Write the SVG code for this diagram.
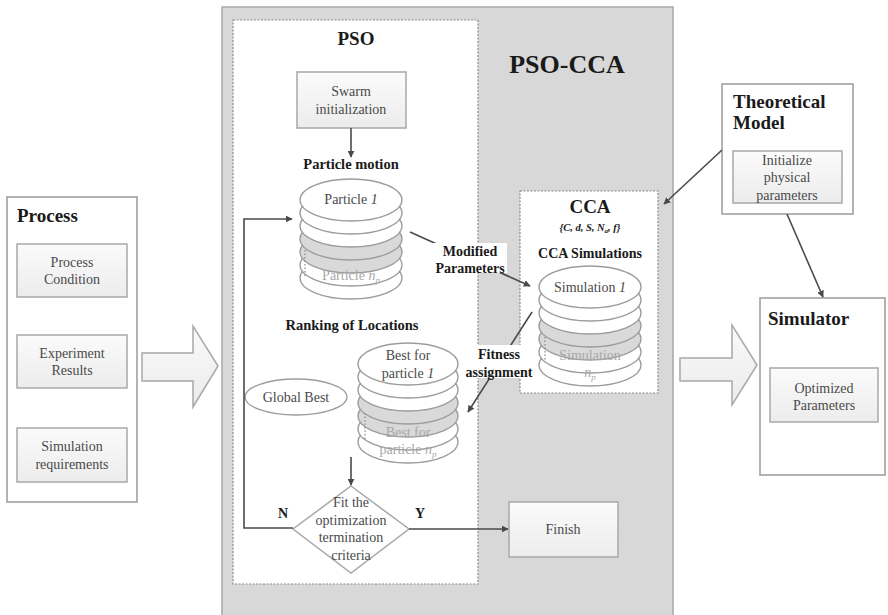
<svg xmlns="http://www.w3.org/2000/svg" width="888" height="615" viewBox="0 0 888 615">
<style>
text{font-family:"Liberation Serif","Times New Roman",serif;}
.bt{font-weight:bold;fill:#1a1a1a;}
.nt{fill:#4a4a4a;font-size:14px;text-anchor:middle;}
.gt{fill:#a8a8a8;font-size:14px;text-anchor:middle;}
.box{fill:#fff;stroke:#9a9a9a;stroke-width:1.5;}
.sbox{fill:url(#g1);stroke:#a8a8a8;stroke-width:1.5;}
.dot{fill:#fff;stroke:#8a8a8a;stroke-width:1.2;stroke-dasharray:2 1.5;}
.el{fill:#fff;stroke:#9c9c9c;stroke-width:1.3;}
.elg{fill:#d9d9d9;stroke:#9c9c9c;stroke-width:1.3;}
.vd{stroke:#888;stroke-width:1.2;stroke-dasharray:1.5 2;}
.ln{fill:none;stroke:#4a4a4a;stroke-width:1.6;}
.big{fill:url(#g2);stroke:#a8a8a8;stroke-width:1.5;}
</style>
<defs>
<linearGradient id="g1" x1="0" y1="0" x2="0" y2="1"><stop offset="0" stop-color="#fbfbfb"/><stop offset="1" stop-color="#ececec"/></linearGradient>
<linearGradient id="g2" x1="0" y1="0" x2="0" y2="1"><stop offset="0" stop-color="#fafafa"/><stop offset="1" stop-color="#ebebeb"/></linearGradient>
<marker id="ah" viewBox="0 0 10 10" refX="9" refY="5" markerWidth="7" markerHeight="7" markerUnits="userSpaceOnUse" orient="auto"><path d="M0,0 L10,5 L0,10 z" fill="#4a4a4a"/></marker>
</defs>
<rect width="888" height="615" fill="#fff"/>

<g id="pso-cca">
<rect x="222" y="7" width="451" height="620" fill="#d8d8d8" stroke="#a8a8a8" stroke-width="1.5"/>
<text class="bt" x="567" y="73" font-size="26" text-anchor="middle">PSO-CCA</text>
</g>

<g id="pso">
<rect class="dot" x="233" y="20" width="245" height="564"/>
<text class="bt" x="356" y="45" font-size="19" text-anchor="middle">PSO</text>
</g>

<g id="process">
<rect class="box" x="7" y="197" width="130" height="305"/>
<text class="bt" x="17" y="222" font-size="19">Process</text>
<rect class="sbox" x="17" y="244" width="110" height="53"/>
<text class="nt" x="72" y="267">Process</text>
<text class="nt" x="72" y="284">Condition</text>
<rect class="sbox" x="17" y="335" width="110" height="53"/>
<text class="nt" x="72" y="358">Experiment</text>
<text class="nt" x="72" y="375">Results</text>
<rect class="sbox" x="17" y="428" width="110" height="54"/>
<text class="nt" x="72" y="451">Simulation</text>
<text class="nt" x="72" y="469">requirements</text>
</g>

<g id="arrow-left">
<path class="big" d="M142,353 L193,353 L193,326 L218,366 L193,407 L193,381 L142,381 z"/>
</g>
<g id="arrow-right">
<path class="big" d="M680,358 L732,358 L732,325 L757,365 L732,405 L732,381 L680,381 z"/>
</g>

<g id="swarm">
<rect class="sbox" x="297" y="72" width="109" height="56"/>
<text class="nt" x="351" y="96">Swarm</text>
<text class="nt" x="351" y="114">initialization</text>
</g>

<g id="particle-motion">
<text class="bt" x="351" y="169" font-size="14.5" text-anchor="middle">Particle motion</text>
<ellipse class="el" cx="351" cy="278" rx="51" ry="21"/>
<ellipse class="el" cx="351" cy="265" rx="51" ry="21"/>
<ellipse class="elg" cx="351" cy="252" rx="51" ry="21"/>
<ellipse class="elg" cx="351" cy="239" rx="51" ry="21"/>
<ellipse class="el" cx="351" cy="226" rx="51" ry="21"/>
<ellipse class="el" cx="351" cy="213" rx="51" ry="21"/>
<ellipse class="el" cx="351" cy="200" rx="51" ry="21"/>
<line class="vd" x1="305" y1="250" x2="305" y2="276"/>
<text class="nt" x="351" y="204">Particle <tspan font-style="italic">1</tspan></text>
<text class="gt" x="351" y="280">Particle <tspan font-style="italic">n</tspan><tspan font-style="italic" font-size="9" dy="3">p</tspan></text>
</g>

<g id="ranking">
<text class="bt" x="352" y="330" font-size="14.5" text-anchor="middle">Ranking of Locations</text>
</g>

<g id="global-best">
<ellipse class="el" cx="296" cy="397" rx="51" ry="18"/>
<text class="nt" x="296" y="402">Global Best</text>
</g>

<g id="best-stack">
<ellipse class="el" cx="408" cy="442" rx="50" ry="21"/>
<ellipse class="el" cx="408" cy="429" rx="50" ry="21"/>
<ellipse class="elg" cx="408" cy="416" rx="50" ry="21"/>
<ellipse class="elg" cx="408" cy="403" rx="50" ry="21"/>
<ellipse class="el" cx="408" cy="390" rx="50" ry="21"/>
<ellipse class="el" cx="408" cy="377" rx="50" ry="21"/>
<ellipse class="el" cx="408" cy="364" rx="50" ry="21"/>
<line class="vd" x1="365" y1="413" x2="365" y2="440"/>
<text class="nt" x="408" y="360">Best for</text>
<text class="nt" x="408" y="378">particle <tspan font-style="italic">1</tspan></text>
<text class="gt" x="408" y="437">Best for</text>
<text class="gt" x="408" y="454">particle <tspan font-style="italic">n</tspan><tspan font-style="italic" font-size="9" dy="3">p</tspan></text>
</g>

<g id="decision">
<path d="M351,486 L409,529 L351,573 L293,529 z" fill="#fff" stroke="#a8a8a8" stroke-width="1.5"/>
<text class="nt" x="351" y="507">Fit the</text>
<text class="nt" x="351" y="525">optimization</text>
<text class="nt" x="351" y="542">termination</text>
<text class="nt" x="351" y="560">criteria</text>
<text class="bt" x="283" y="518" font-size="14" text-anchor="middle">N</text>
<text class="bt" x="420" y="518" font-size="14" text-anchor="middle">Y</text>
</g>

<g id="finish">
<rect class="sbox" x="509" y="502" width="109" height="55"/>
<text class="nt" x="563" y="534">Finish</text>
</g>

<g id="cca">
<rect class="dot" x="520" y="191" width="138" height="202"/>
<text class="bt" x="590" y="213" font-size="19" text-anchor="middle">CCA</text>
<text class="bt" x="590" y="231" font-size="10.5" text-anchor="middle" font-style="italic">{C, d, S, N<tspan font-size="7" dy="2">a</tspan><tspan dy="-2">, f}</tspan></text>
<text class="bt" x="590" y="258" font-size="14" text-anchor="middle">CCA Simulations</text>
<ellipse class="el" cx="590" cy="365" rx="51" ry="21"/>
<ellipse class="el" cx="590" cy="352" rx="51" ry="21"/>
<ellipse class="elg" cx="590" cy="339" rx="51" ry="21"/>
<ellipse class="elg" cx="590" cy="326" rx="51" ry="21"/>
<ellipse class="el" cx="590" cy="313" rx="51" ry="21"/>
<ellipse class="el" cx="590" cy="300" rx="51" ry="21"/>
<ellipse class="el" cx="590" cy="287" rx="51" ry="21"/>
<line class="vd" x1="545" y1="337" x2="545" y2="360"/>
<text class="nt" x="590" y="292">Simulation <tspan font-style="italic">1</tspan></text>
<text class="gt" x="590" y="360">Simulation</text>
<text class="gt" x="590" y="377"><tspan font-style="italic">n</tspan><tspan font-style="italic" font-size="9" dy="3">p</tspan></text>
</g>

<g id="theoretical-model">
<rect class="box" x="722" y="84" width="131" height="130"/>
<text class="bt" x="733" y="108" font-size="19">Theoretical</text>
<text class="bt" x="733" y="129" font-size="19">Model</text>
<rect class="sbox" x="733" y="151" width="109" height="52"/>
<text class="nt" x="787" y="165" font-size="13">Initialize</text>
<text class="nt" x="787" y="182" font-size="13">physical</text>
<text class="nt" x="787" y="200" font-size="13">parameters</text>
</g>

<g id="simulator">
<rect class="box" x="760" y="298" width="125" height="177"/>
<text class="bt" x="768" y="325" font-size="19">Simulator</text>
<rect class="sbox" x="770" y="368" width="108" height="54"/>
<text class="nt" x="824" y="393" font-size="13.5">Optimized</text>
<text class="nt" x="824" y="410" font-size="13.5">Parameters</text>
</g>

<g id="connectors">
<line class="ln" x1="351" y1="128" x2="351" y2="157" marker-end="url(#ah)"/>
<line class="ln" x1="351" y1="457" x2="351" y2="485" marker-end="url(#ah)"/>
<polyline class="ln" points="293,528 244,528 244,219 292,219" marker-end="url(#ah)"/>
<line class="ln" x1="409" y1="529" x2="508" y2="529" marker-end="url(#ah)"/>
<line class="ln" x1="410" y1="232" x2="530" y2="286" marker-end="url(#ah)"/>
<line class="ln" x1="532" y1="312" x2="468" y2="412" marker-end="url(#ah)"/>
<line class="ln" x1="722" y1="150" x2="664" y2="204" marker-end="url(#ah)"/>
<line class="ln" x1="787" y1="214" x2="823" y2="297" marker-end="url(#ah)"/>
</g>

<g id="label-modified">
<rect x="433" y="243" width="74" height="30" fill="#fff"/>
<text class="bt" x="470" y="256" font-size="14" text-anchor="middle">Modified</text>
<text class="bt" x="470" y="273" font-size="14" text-anchor="middle">Parameters</text>
</g>
<g id="label-fitness">
<rect x="462" y="345" width="74" height="33" fill="#fff"/>
<text class="bt" x="499" y="359" font-size="14" text-anchor="middle">Fitness</text>
<text class="bt" x="499" y="377" font-size="14" text-anchor="middle">assignment</text>
</g>
</svg>
